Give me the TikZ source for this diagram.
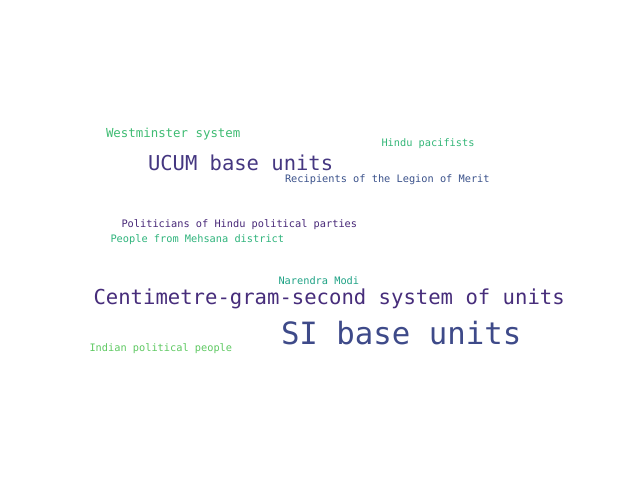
\documentclass[tikz,border=0pt]{standalone}
\usepackage{fontspec}
\setmainfont{DejaVu Sans Mono}
\definecolor{cA}{HTML}{3FBC73}
\definecolor{cB}{HTML}{35B779}
\definecolor{cC}{HTML}{453781}
\definecolor{cD}{HTML}{3B528B}
\definecolor{cE}{HTML}{482878}
\definecolor{cF}{HTML}{2FB47C}
\definecolor{cG}{HTML}{20A386}
\definecolor{cH}{HTML}{472D7B}
\definecolor{cI}{HTML}{3E4A89}
\definecolor{cJ}{HTML}{5EC962}
\begin{document}
\begin{tikzpicture}[x=1pt,y=-1pt,
  word/.style={anchor=base west,inner sep=0pt,outer sep=0pt}]
\useasboundingbox[fill=white] (0,0) rectangle (640,480);
\node[word,text=cA,font=\fontsize{12.4}{14}\selectfont] (w1) at (106,137.5) {Westminster system};
\node[word,text=cB,font=\fontsize{10.3}{12}\selectfont] (w2) at (381.5,146) {Hindu pacifists};
\node[word,text=cC,font=\fontsize{20.5}{24}\selectfont] (w3) at (148,170.5) {UCUM base units};
\node[word,text=cD,font=\fontsize{10.3}{12}\selectfont] (w4) at (285,182) {Recipients of the Legion of Merit};
\node[word,text=cE,font=\fontsize{10.3}{12}\selectfont] (w5) at (121.5,227.5) {Politicians of Hindu political parties};
\node[word,text=cF,font=\fontsize{10.3}{12}\selectfont] (w6) at (110.5,242.5) {People from Mehsana district};
\node[word,text=cG,font=\fontsize{10.3}{12}\selectfont] (w7) at (278.5,284) {Narendra Modi};
\node[word,text=cH,font=\fontsize{20.6}{24}\selectfont] (w8) at (93.5,304) {Centimetre-gram-second system of units};
\node[word,text=cI,font=\fontsize{30.7}{36}\selectfont] (w9) at (281,344.5) {SI base units};
\node[word,text=cJ,font=\fontsize{10.3}{12}\selectfont] (w10) at (89.5,351.5) {Indian political people};
\end{tikzpicture}
\end{document}
